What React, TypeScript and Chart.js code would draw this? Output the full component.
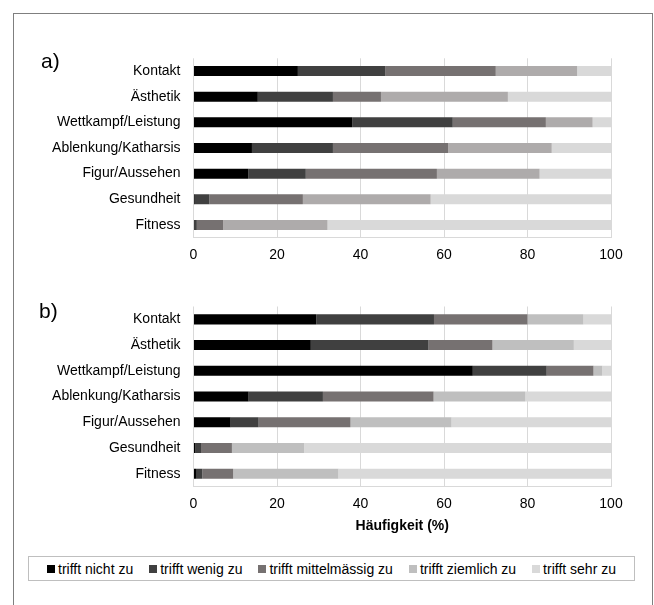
import React, { useEffect, useRef } from "react";
import { Chart, registerables } from "chart.js";

Chart.register(...registerables);

const categories = [
  "Kontakt",
  "Ästhetik",
  "Wettkampf/Leistung",
  "Ablenkung/Katharsis",
  "Figur/Aussehen",
  "Gesundheit",
  "Fitness",
];

const seriesNames = [
  "trifft nicht zu",
  "trifft wenig zu",
  "trifft mittelmässig zu",
  "trifft ziemlich zu",
  "trifft sehr zu",
];

// Panel a) values (%), per response category
const aNicht = [25.0, 15.4, 38.0, 14.0, 13.1, 0.3, 0.0];
const aWenig = [20.9, 18.0, 24.1, 19.4, 13.8, 3.5, 0.8];
const aMittel = [26.5, 11.5, 22.3, 27.6, 31.4, 22.4, 6.3];
const aZiemlich = [19.5, 30.4, 11.2, 24.8, 24.6, 30.6, 25.0];
const aSehr = [8.1, 24.7, 4.4, 14.2, 17.1, 43.2, 67.9];

// Panel b) values (%)
const bNicht = [29.4, 28.1, 66.9, 13.2, 8.9, 0.5, 0.6];
const bWenig = [28.2, 28.2, 17.7, 17.8, 6.7, 1.3, 1.5];
const bMittel = [22.4, 15.3, 11.2, 26.5, 22.0, 7.4, 7.4];
const bZiemlich = [13.4, 19.5, 2.1, 22.0, 24.2, 17.3, 25.2];
const bSehr = [6.6, 8.9, 2.1, 20.5, 38.2, 73.5, 65.3];

const xTicks = [0, 20, 40, 60, 80, 100];

const colorsA = ["#000000", "#404040", "#767171", "#AEABAB", "#D9D9D9"];
const colorsB = ["#000000", "#404040", "#767171", "#BFBFBF", "#D9D9D9"];

const FONT = "'Liberation Sans', Arial, Helvetica, sans-serif";

function makeConfig(
  values: number[][],
  colors: string[],
  opts: { padTop: number; xHeight: number; title: boolean }
): any {
  return {
    type: "bar",
    data: {
      labels: categories,
      datasets: values.map((v, i) => ({
        label: seriesNames[i],
        data: v,
        backgroundColor: colors[i],
        borderWidth: 0,
        barPercentage: 0.39,
        categoryPercentage: 1,
      })),
    },
    options: {
      indexAxis: "y",
      responsive: false,
      animation: false,
      devicePixelRatio: 1,
      layout: { padding: { top: opts.padTop, right: 43, left: 0, bottom: 0 } },
      plugins: {
        legend: { display: false },
        tooltip: { enabled: false },
      },
      scales: {
        x: {
          stacked: true,
          min: 0,
          max: 100,
          afterBuildTicks: (scale: any) => {
            scale.ticks = xTicks.map((v) => ({ value: v }));
          },
          afterFit: (scale: any) => {
            scale.height = opts.xHeight;
          },
          ticks: {
            font: { family: FONT, size: 14 },
            color: "#000",
            padding: 9,
            maxRotation: 0,
          },
          grid: { color: "#D9D9D9", drawTicks: false, lineWidth: 1 },
          border: { color: "#D9D9D9" },
          title: {
            display: opts.title,
            text: "Häufigkeit (%)",
            font: { family: FONT, size: 14, weight: "bold" },
            color: "#000",
            padding: { top: 0, bottom: 0 },
          },
        },
        y: {
          stacked: true,
          afterFit: (scale: any) => {
            scale.width = 193.5;
          },
          ticks: {
            font: { family: FONT, size: 14 },
            color: "#000",
            padding: 13,
            autoSkip: false,
          },
          grid: { display: false, drawTicks: false },
          border: { display: false },
        },
      },
    },
  };
}

export default function App() {
  const refA = useRef<HTMLCanvasElement>(null);
  const refB = useRef<HTMLCanvasElement>(null);

  useEffect(() => {
    Chart.defaults.font.family = FONT;
    const ca = new Chart(
      refA.current as HTMLCanvasElement,
      makeConfig([aNicht, aWenig, aMittel, aZiemlich, aSehr], colorsA, {
        padTop: 58.3,
        xHeight: 275 - 237.7,
        title: false,
      })
    );
    const cb = new Chart(
      refB.current as HTMLCanvasElement,
      makeConfig([bNicht, bWenig, bMittel, bZiemlich, bSehr], colorsB, {
        padTop: 31.5,
        xHeight: 260 - 211.6,
        title: true,
      })
    );
    return () => {
      ca.destroy();
      cb.destroy();
    };
  }, []);

  const labelStyle: React.CSSProperties = {
    position: "absolute",
    fontFamily: FONT,
    fontSize: 21,
    lineHeight: "24px",
    color: "#000",
  };

  return (
    <div
      style={{
        position: "absolute",
        left: 0,
        top: 0,
        width: 654,
        height: 605,
        overflow: "hidden",
        background: "#fff",
      }}
    >
      <div
        style={{
          position: "absolute",
          left: 13,
          top: 13,
          width: 640,
          height: 620,
          boxSizing: "border-box",
          border: "1px solid #7F7F7F",
        }}
      />
      <canvas
        ref={refA}
        width={654}
        height={275}
        style={{ position: "absolute", left: 0, top: 0, width: 654, height: 275 }}
      />
      <canvas
        ref={refB}
        width={654}
        height={260}
        style={{ position: "absolute", left: 0, top: 275, width: 654, height: 260 }}
      />
      <div style={{ ...labelStyle, left: 41, top: 49 }}>a)</div>
      <div style={{ ...labelStyle, left: 39, top: 299 }}>b)</div>
      <div
        style={{
          position: "absolute",
          left: 28,
          top: 556,
          width: 607,
          height: 25,
          boxSizing: "border-box",
          border: "1px solid #BFBFBF",
          display: "flex",
          alignItems: "center",
          justifyContent: "center",
          gap: 16,
          fontFamily: FONT,
          fontSize: 14,
          color: "#000",
        }}
      >
        {seriesNames.map((n, i) => (
          <div key={n} style={{ display: "flex", alignItems: "center" }}>
            <span
              style={{
                display: "inline-block",
                width: 8,
                height: 8,
                background: colorsB[i],
                marginRight: 3,
              }}
            />
            <span>{n}</span>
          </div>
        ))}
      </div>
    </div>
  );
}
